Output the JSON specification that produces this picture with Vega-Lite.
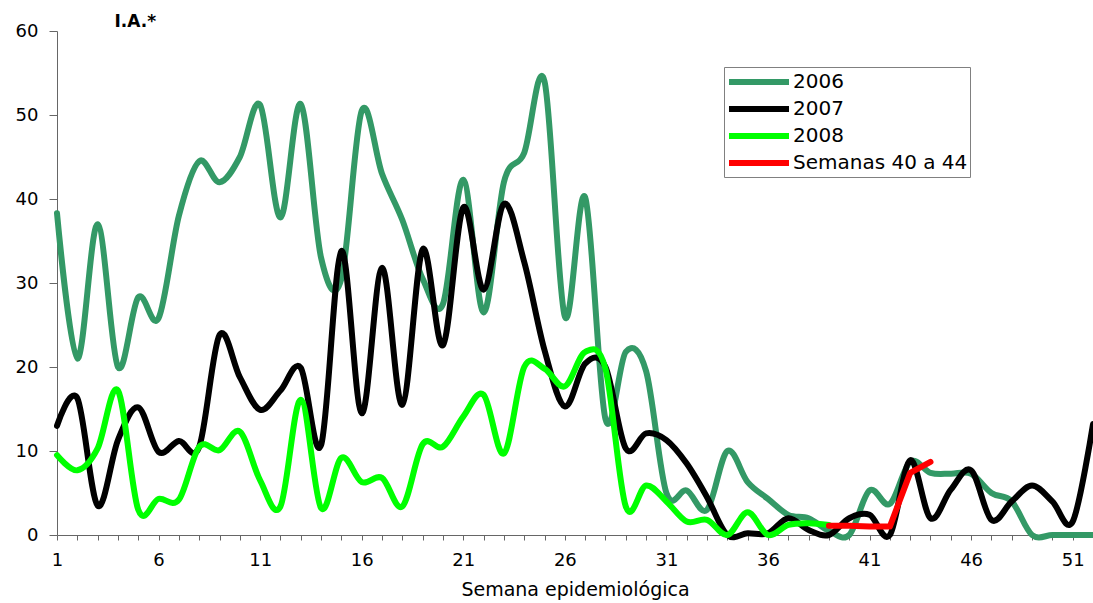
{
  "$schema": "https://vega.github.io/schema/vega-lite/v6.json",
  "width": 1036,
  "height": 504,
  "autosize": {"type": "none"},
  "padding": {"left": 57, "top": 31, "right": 0, "bottom": 68},
  "background": "white",
  "config": {
    "view": {"stroke": null},
    "font": "DejaVu Sans",
    "axis": {"grid": false, "domainColor": "#666666", "tickColor": "#666666", "labelColor": "#000000", "labelFont": "DejaVu Sans", "titleFont": "DejaVu Sans", "labelFontSize": 18, "titleFontSize": 19, "titleFontWeight": "normal", "titleColor": "#000000"}
  },
  "datasets": {
    "suave": [
      {"serie": "2006", "semana": 1, "valor": 38.3}, {"serie": "2006", "semana": 2, "valor": 21}, {"serie": "2006", "semana": 3, "valor": 37}, {"serie": "2006", "semana": 4, "valor": 20}, {"serie": "2006", "semana": 5, "valor": 28.3}, {"serie": "2006", "semana": 6, "valor": 25.8}, {"serie": "2006", "semana": 7, "valor": 38}, {"serie": "2006", "semana": 8, "valor": 44.5}, {"serie": "2006", "semana": 9, "valor": 42}, {"serie": "2006", "semana": 10, "valor": 45}, {"serie": "2006", "semana": 11, "valor": 51.2}, {"serie": "2006", "semana": 12, "valor": 37.8}, {"serie": "2006", "semana": 13, "valor": 51.3}, {"serie": "2006", "semana": 14, "valor": 33}, {"serie": "2006", "semana": 15, "valor": 30.5}, {"serie": "2006", "semana": 16, "valor": 50.5}, {"serie": "2006", "semana": 17, "valor": 43}, {"serie": "2006", "semana": 18, "valor": 37.5}, {"serie": "2006", "semana": 19, "valor": 30.5}, {"serie": "2006", "semana": 20, "valor": 27.5}, {"serie": "2006", "semana": 21, "valor": 42.3}, {"serie": "2006", "semana": 22, "valor": 26.5}, {"serie": "2006", "semana": 23, "valor": 42}, {"serie": "2006", "semana": 24, "valor": 45.5}, {"serie": "2006", "semana": 25, "valor": 54}, {"serie": "2006", "semana": 26, "valor": 26}, {"serie": "2006", "semana": 27, "valor": 40.2}, {"serie": "2006", "semana": 28, "valor": 13.8}, {"serie": "2006", "semana": 29, "valor": 21.8}, {"serie": "2006", "semana": 30, "valor": 19.5}, {"serie": "2006", "semana": 31, "valor": 5}, {"serie": "2006", "semana": 32, "valor": 5.3}, {"serie": "2006", "semana": 33, "valor": 3}, {"serie": "2006", "semana": 34, "valor": 10}, {"serie": "2006", "semana": 35, "valor": 6.3}, {"serie": "2006", "semana": 36, "valor": 4.3}, {"serie": "2006", "semana": 37, "valor": 2.4}, {"serie": "2006", "semana": 38, "valor": 2}, {"serie": "2006", "semana": 39, "valor": 0.5}, {"serie": "2006", "semana": 40, "valor": 0}, {"serie": "2006", "semana": 41, "valor": 5.3}, {"serie": "2006", "semana": 42, "valor": 3.7}, {"serie": "2006", "semana": 43, "valor": 8.7}, {"serie": "2006", "semana": 44, "valor": 7.4}, {"serie": "2006", "semana": 45, "valor": 7.3}, {"serie": "2006", "semana": 46, "valor": 7.3}, {"serie": "2006", "semana": 47, "valor": 5}, {"serie": "2006", "semana": 48, "valor": 4}, {"serie": "2006", "semana": 49, "valor": 0}, {"serie": "2006", "semana": 50, "valor": 0}, {"serie": "2006", "semana": 51, "valor": 0}, {"serie": "2006", "semana": 52, "valor": 0},
      {"serie": "2007", "semana": 1, "valor": 13}, {"serie": "2007", "semana": 2, "valor": 16.3}, {"serie": "2007", "semana": 3, "valor": 3.5}, {"serie": "2007", "semana": 4, "valor": 11.3}, {"serie": "2007", "semana": 5, "valor": 15.2}, {"serie": "2007", "semana": 6, "valor": 9.9}, {"serie": "2007", "semana": 7, "valor": 11.2}, {"serie": "2007", "semana": 8, "valor": 10.5}, {"serie": "2007", "semana": 9, "valor": 23.8}, {"serie": "2007", "semana": 10, "valor": 18.8}, {"serie": "2007", "semana": 11, "valor": 14.9}, {"serie": "2007", "semana": 12, "valor": 17.2}, {"serie": "2007", "semana": 13, "valor": 19.9}, {"serie": "2007", "semana": 14, "valor": 10.7}, {"serie": "2007", "semana": 15, "valor": 33.8}, {"serie": "2007", "semana": 16, "valor": 14.5}, {"serie": "2007", "semana": 17, "valor": 31.8}, {"serie": "2007", "semana": 18, "valor": 15.5}, {"serie": "2007", "semana": 19, "valor": 34}, {"serie": "2007", "semana": 20, "valor": 22.6}, {"serie": "2007", "semana": 21, "valor": 39}, {"serie": "2007", "semana": 22, "valor": 29.2}, {"serie": "2007", "semana": 23, "valor": 39.4}, {"serie": "2007", "semana": 24, "valor": 32.5}, {"serie": "2007", "semana": 25, "valor": 22}, {"serie": "2007", "semana": 26, "valor": 15.3}, {"serie": "2007", "semana": 27, "valor": 20.4}, {"serie": "2007", "semana": 28, "valor": 20}, {"serie": "2007", "semana": 29, "valor": 10.3}, {"serie": "2007", "semana": 30, "valor": 12.1}, {"serie": "2007", "semana": 31, "valor": 11.3}, {"serie": "2007", "semana": 32, "valor": 8.5}, {"serie": "2007", "semana": 33, "valor": 4.5}, {"serie": "2007", "semana": 34, "valor": 0}, {"serie": "2007", "semana": 35, "valor": 0.2}, {"serie": "2007", "semana": 36, "valor": 0.2}, {"serie": "2007", "semana": 37, "valor": 2}, {"serie": "2007", "semana": 38, "valor": 0.6}, {"serie": "2007", "semana": 39, "valor": 0}, {"serie": "2007", "semana": 40, "valor": 2}, {"serie": "2007", "semana": 41, "valor": 2.4}, {"serie": "2007", "semana": 42, "valor": 0}, {"serie": "2007", "semana": 43, "valor": 8.9}, {"serie": "2007", "semana": 44, "valor": 2}, {"serie": "2007", "semana": 45, "valor": 5.4}, {"serie": "2007", "semana": 46, "valor": 7.7}, {"serie": "2007", "semana": 47, "valor": 1.8}, {"serie": "2007", "semana": 48, "valor": 4}, {"serie": "2007", "semana": 49, "valor": 5.9}, {"serie": "2007", "semana": 50, "valor": 4}, {"serie": "2007", "semana": 51, "valor": 1.6}, {"serie": "2007", "semana": 52, "valor": 13.2},
      {"serie": "2008", "semana": 1, "valor": 9.5}, {"serie": "2008", "semana": 2, "valor": 7.7}, {"serie": "2008", "semana": 3, "valor": 10.3}, {"serie": "2008", "semana": 4, "valor": 17.2}, {"serie": "2008", "semana": 5, "valor": 3}, {"serie": "2008", "semana": 6, "valor": 4.3}, {"serie": "2008", "semana": 7, "valor": 4.2}, {"serie": "2008", "semana": 8, "valor": 10.5}, {"serie": "2008", "semana": 9, "valor": 10.1}, {"serie": "2008", "semana": 10, "valor": 12.3}, {"serie": "2008", "semana": 11, "valor": 6.5}, {"serie": "2008", "semana": 12, "valor": 3.4}, {"serie": "2008", "semana": 13, "valor": 16.1}, {"serie": "2008", "semana": 14, "valor": 3.2}, {"serie": "2008", "semana": 15, "valor": 9.2}, {"serie": "2008", "semana": 16, "valor": 6.3}, {"serie": "2008", "semana": 17, "valor": 6.8}, {"serie": "2008", "semana": 18, "valor": 3.4}, {"serie": "2008", "semana": 19, "valor": 10.8}, {"serie": "2008", "semana": 20, "valor": 10.5}, {"serie": "2008", "semana": 21, "valor": 14.1}, {"serie": "2008", "semana": 22, "valor": 16.7}, {"serie": "2008", "semana": 23, "valor": 9.7}, {"serie": "2008", "semana": 24, "valor": 20}, {"serie": "2008", "semana": 25, "valor": 19.8}, {"serie": "2008", "semana": 26, "valor": 17.7}, {"serie": "2008", "semana": 27, "valor": 21.8}, {"serie": "2008", "semana": 28, "valor": 19.8}, {"serie": "2008", "semana": 29, "valor": 3.4}, {"serie": "2008", "semana": 30, "valor": 5.9}, {"serie": "2008", "semana": 31, "valor": 4}, {"serie": "2008", "semana": 32, "valor": 1.6}, {"serie": "2008", "semana": 33, "valor": 1.8}, {"serie": "2008", "semana": 34, "valor": 0}, {"serie": "2008", "semana": 35, "valor": 2.7}, {"serie": "2008", "semana": 36, "valor": 0}, {"serie": "2008", "semana": 37, "valor": 1.2}, {"serie": "2008", "semana": 38, "valor": 1.4}, {"serie": "2008", "semana": 39, "valor": 1.2}
    ],
    "rojo": [
      {"serie": "Semanas 40 a 44", "semana": 39, "valor": 1.1}, {"serie": "Semanas 40 a 44", "semana": 40, "valor": 1.1}, {"serie": "Semanas 40 a 44", "semana": 41, "valor": 1}, {"serie": "Semanas 40 a 44", "semana": 42, "valor": 1}, {"serie": "Semanas 40 a 44", "semana": 43, "valor": 7.4}, {"serie": "Semanas 40 a 44", "semana": 44, "valor": 8.7}
    ]
  },
  "encoding": {
    "x": {"field": "semana", "type": "quantitative", "scale": {"domain": [1, 52], "nice": false, "zero": false},
      "axis": {"title": "Semana epidemiológica", "values": [1,2,3,4,5,6,7,8,9,10,11,12,13,14,15,16,17,18,19,20,21,22,23,24,25,26,27,28,29,30,31,32,33,34,35,36,37,38,39,40,41,42,43,44,45,46,47,48,49,50,51,52], "labelExpr": "(datum.value - 1) % 5 == 0 ? datum.label : ''", "tickSize": 5, "labelPadding": 11, "titlePadding": 11, "labelFlush": false, "labelOverlap": false}},
    "y": {"field": "valor", "type": "quantitative", "scale": {"domain": [0, 60], "nice": false},
      "axis": {"title": "I.A.*", "titleAngle": 0, "titleFontWeight": "bold", "titleFontSize": 17, "titleAlign": "left", "titleBaseline": "alphabetic", "titleX": 57, "titleY": -5, "values": [0, 10, 20, 30, 40, 50, 60], "tickSize": 8, "labelPadding": 11}},
    "color": {"field": "serie", "type": "nominal",
      "scale": {"domain": ["2006", "2007", "2008", "Semanas 40 a 44"], "range": ["#339966", "#000000", "#00FF00", "#FF0000"]},
      "legend": {"title": null, "orient": "none", "legendX": 667, "legendY": 36, "symbolType": "M-3,0L3,0", "symbolSize": 400, "symbolOffset": 20, "symbolStrokeWidth": 6, "symbolStrokeCap": "round", "labelFontSize": 20, "labelFont": "DejaVu Sans", "labelColor": "#000000", "labelLimit": 400, "strokeColor": "#808080", "padding": 2, "rowPadding": 2, "labelOffset": 21}}
  },
  "layer": [
    {"data": {"name": "suave"}, "mark": {"type": "line", "interpolate": "cardinal", "strokeWidth": 6, "strokeCap": "round", "strokeJoin": "round"}},
    {"data": {"name": "rojo"}, "mark": {"type": "line", "strokeWidth": 6, "strokeCap": "round", "strokeJoin": "round"}}
  ]
}
